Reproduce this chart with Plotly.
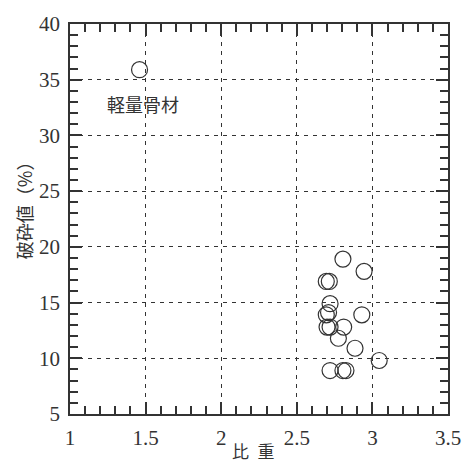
import plotly.graph_objects as go

# Data (specific gravity vs crushing value %)
sg = [1.46, 2.805, 2.945, 2.695, 2.715, 2.72, 2.695, 2.71, 2.93, 2.72, 2.70, 2.81, 2.775, 2.885, 3.045, 2.72, 2.805, 2.825]
crush = [35.9, 18.9, 17.8, 16.9, 16.9, 14.9, 13.9, 14.1, 13.9, 12.8, 12.8, 12.8, 11.8, 10.9, 9.8, 8.9, 8.9, 8.9]

x_ticks = [1, 1.5, 2, 2.5, 3, 3.5]
x_labels = ["1", "1.5", "2", "2.5", "3", "3.5"]
y_ticks = [5, 10, 15, 20, 25, 30, 35, 40]

ink = "#333333"
serif = "Liberation Serif, Times New Roman, serif"
cjk = "Noto Sans CJK JP"

fig = go.Figure()
fig.add_trace(go.Scatter(
    x=sg, y=crush, mode="markers",
    marker=dict(symbol="circle-open", size=16, color=ink, line=dict(width=1.2, color=ink)),
    showlegend=False, hoverinfo="skip",
))
# invisible trace to activate top/right tick axes
fig.add_trace(go.Scatter(x=[sg[0]], y=[crush[0]], xaxis="x2", yaxis="y2", mode="markers",
                         marker=dict(opacity=0), showlegend=False, hoverinfo="skip"))

tick_common = dict(
    showline=True, linecolor=ink, linewidth=1.8,
    ticks="inside", ticklen=12, tickwidth=1.6, tickcolor=ink,
    zeroline=False,
    tickfont=dict(family=serif, size=21, color=ink),
)
xminor = dict(dtick=0.1, tick0=1, ticks="inside", ticklen=8, tickwidth=1.5, tickcolor=ink, showgrid=False)
yminor = dict(dtick=1, tick0=5, ticks="inside", ticklen=8, tickwidth=1.5, tickcolor=ink, showgrid=False)

fig.update_layout(
    xaxis=dict(range=[1, 3.5], tickvals=x_ticks, ticktext=x_labels, minor=xminor,
               showgrid=True, gridcolor=ink, gridwidth=1, griddash="4px,5px", ticklabelstandoff=4,
               ticklabeloverflow="allow", **tick_common),
    yaxis=dict(range=[5, 40], tickvals=y_ticks, minor=yminor,
               showgrid=True, gridcolor=ink, gridwidth=1, griddash="4px,5px", ticklabelstandoff=4,
               **tick_common),
    xaxis2=dict(range=[1, 3.5], tickvals=x_ticks, minor=xminor, overlaying="x", side="top", anchor="y",
                showticklabels=False, showgrid=False, **tick_common),
    yaxis2=dict(range=[5, 40], tickvals=y_ticks, minor=yminor, overlaying="y", side="right", anchor="x",
                showticklabels=False, showgrid=False, **tick_common),
)

fig.add_annotation(x=1.484, y=32.8, xref="x", yref="y", text="軽量骨材", showarrow=False,
                   xanchor="center", yanchor="middle",
                   font=dict(family=cjk, size=18, color=ink))
fig.add_annotation(x=(259 - 70) / 390, y=-(451 - 414) / 395, xref="paper", yref="paper", text="比\u2002重",
                   showarrow=False, xanchor="center", yanchor="middle",
                   font=dict(family=cjk, size=17, color=ink))
fig.add_annotation(x=-(70 - 22) / 390, y=(414 - 203) / 395, xref="paper", yref="paper", text="破砕値（%）",
                   showarrow=False, xanchor="center", yanchor="middle", textangle=-90,
                   font=dict(family=cjk, size=18, color=ink))

fig.update_layout(
    width=473, height=465,
    margin=dict(l=70, r=13, t=19, b=51),
    paper_bgcolor="white", plot_bgcolor="white",
)

fig.write_html("out.html")
